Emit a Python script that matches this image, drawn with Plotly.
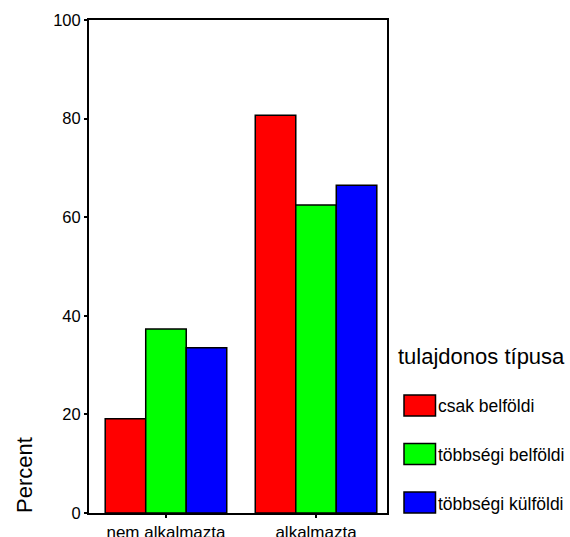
import plotly.graph_objects as go

categories = ["nem alkalmazta", "alkalmazta"]
series_names = ["csak belföldi", "többségi belföldi", "többségi külföldi"]
series_values = [
    [19.1, 80.7],
    [37.3, 62.5],
    [33.5, 66.5],
]
colors = ["#ff0000", "#00ff00", "#0000ff"]
y_ticks = [0, 20, 40, 60, 80, 100]
legend_title = "tulajdonos típusa"
y_title = "Percent"

FONT = "Liberation Sans, Arial, sans-serif"

fig = go.Figure()
for name, vals, col in zip(series_names, series_values, colors):
    fig.add_trace(go.Bar(
        x=categories, y=vals, name=name,
        marker=dict(color=col, line=dict(color="black", width=1.5)),
        showlegend=False,
    ))

W, H = 570, 537
L, R, T, B = 89, 183, 20, 24

fig.update_layout(
    width=W, height=H,
    margin=dict(l=L, r=R, t=T, b=B, autoexpand=False),
    paper_bgcolor="white", plot_bgcolor="white",
    barmode="group", bargap=0.19, bargroupgap=0,
    font=dict(family=FONT, size=17, color="black"),
    xaxis=dict(
        type="category", range=[-0.513, 1.473], automargin=False,
        showline=True, linecolor="black", linewidth=2, mirror=True,
        ticks="outside", ticklen=3, tickwidth=2, tickcolor="black",
        showgrid=False, tickfont=dict(size=17), fixedrange=True,
    ),
    yaxis=dict(
        range=[0, 100], tickvals=y_ticks, automargin=False,
        showline=True, linecolor="black", linewidth=2, mirror=True,
        ticks="outside", ticklen=3, tickwidth=2, tickcolor="black",
        showgrid=False, zeroline=False, tickfont=dict(size=16.5),
        fixedrange=True,
    ),
)

pw = W - L - R
ph = H - T - B

def px_x(x):
    return (x - L) / pw

def px_y(y):
    return (H - B - y) / ph

# y-axis title placed low, as in reference
fig.add_annotation(
    text=y_title, xref="paper", yref="paper",
    x=px_x(24), y=px_y(475),
    textangle=-90, showarrow=False, font=dict(size=22, family=FONT),
    xanchor="center", yanchor="middle",
)

# legend title
fig.add_annotation(
    text=legend_title, xref="paper", yref="paper",
    x=px_x(396), y=px_y(356), xanchor="left", yanchor="middle",
    showarrow=False, font=dict(size=22, family=FONT),
)
for i, (name, col) in enumerate(zip(series_names, colors)):
    yc = 405.5 + i * 48.5
    fig.add_shape(
        type="rect", xref="paper", yref="paper",
        x0=px_x(404), x1=px_x(435.5), y0=px_y(yc + 10.5), y1=px_y(yc - 10.5),
        fillcolor=col, line=dict(color="black", width=1.5),
    )
    fig.add_annotation(
        text=name, xref="paper", yref="paper",
        x=px_x(436), y=px_y(yc + 1), xanchor="left", yanchor="middle",
        showarrow=False, font=dict(size=17.5, family=FONT),
    )

fig.write_html(
    "out.html",
    config={"displayModeBar": False},
    post_script="document.body.style.margin='0px';",
)
